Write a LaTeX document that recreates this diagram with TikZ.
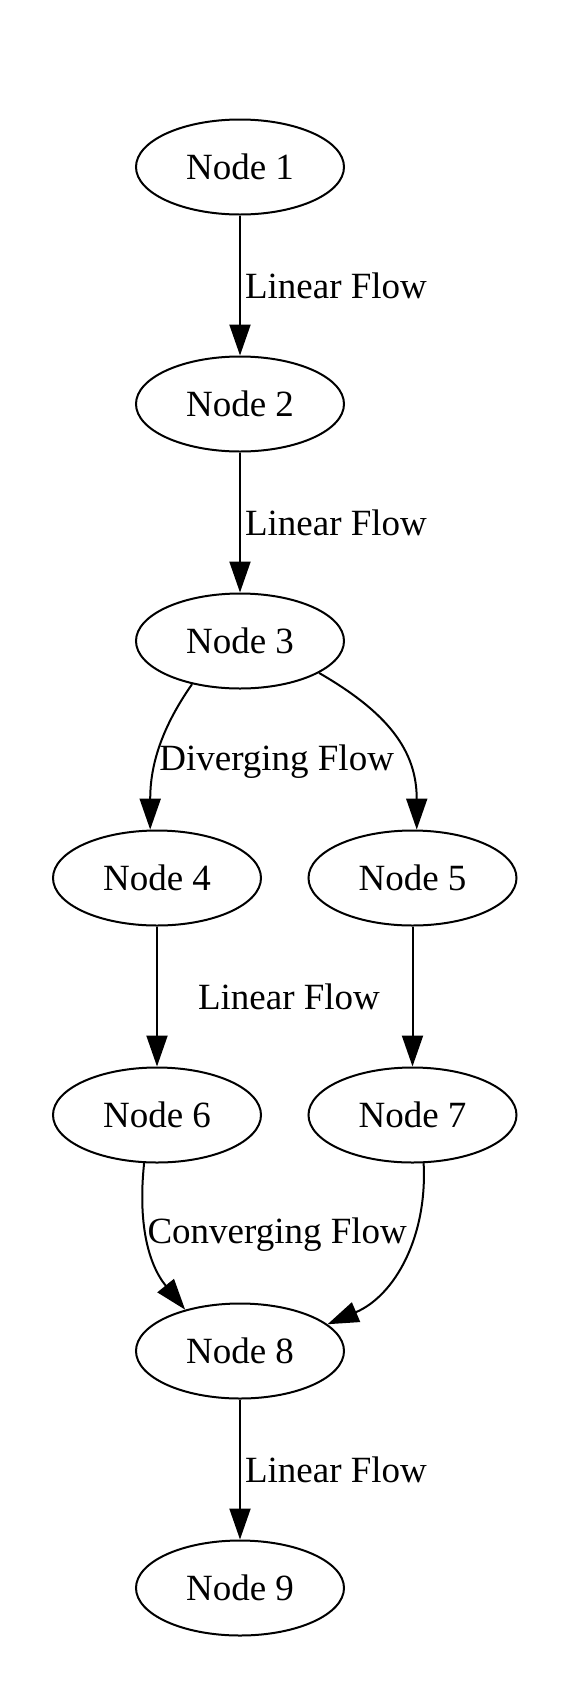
\documentclass[tikz,border=0pt]{standalone}
\usepackage{fontspec}
\setmainfont{Liberation Serif}
\usetikzlibrary{positioning, arrows.meta, shapes.geometric}

\begin{document}
\begin{tikzpicture}[x=1pt, y=-1pt, on grid, line width=2pt,
    font=\fontsize{37}{44}\selectfont,
    flownode/.style={ellipse, draw, inner sep=0pt, minimum width=208pt, minimum height=95pt},
    flow/.style={-{Triangle[length=31pt, width=21pt]}},
    flowlabel/.style={inner sep=0pt}]
    \useasboundingbox (0,0) rectangle (570,1690);

    \node[flownode] (n1) at (240,167) {Node 1};
    \node[flownode, below=237pt of n1] (n2) {Node 2};
    \node[flownode, below=237pt of n2] (n3) {Node 3};
    \node[flownode, below left=237pt and 83pt of n3] (n4) {Node 4};
    \node[flownode, below right=237pt and 172.5pt of n3] (n5) {Node 5};
    \node[flownode, below=237pt of n4] (n6) {Node 6};
    \node[flownode, below=237pt of n5] (n7) {Node 7};
    \node[flownode, below right=236pt and 83pt of n6] (n8) {Node 8};
    \node[flownode, below=237pt of n8] (n9) {Node 9};

    \draw (n1) edge[flow] node[flowlabel, right=4pt] {Linear Flow} (n2);
    \draw (n2) edge[flow] node[flowlabel, right=4pt] {Linear Flow} (n3);
    \draw (n3.222) edge[flow, out=-125, in=90] node[flowlabel, pos=0.56, right=2pt] {Diverging Flow} (n4.98);
    \draw (n3.-22) edge[flow, out=-30, in=90, looseness=1.1] (n5.85);
    \draw (n4) edge[flow] node[flowlabel, right=40pt] {Linear Flow} (n6);
    \draw (n5) edge[flow] (n7);
    \draw (n6.255) edge[flow, out=-96, in=129] node[flowlabel, pos=0.45, right=0pt] {Converging Flow} (n8.143);
    \draw (n7.-77) edge[flow, out=-87, in=23] (n8.17);
    \draw (n8) edge[flow] node[flowlabel, right=4pt] {Linear Flow} (n9);
\end{tikzpicture}
\end{document}
